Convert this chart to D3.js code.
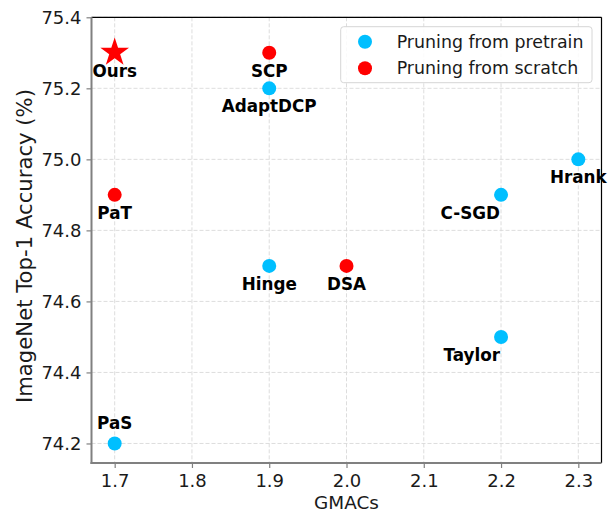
<!DOCTYPE html>
<html>
<head>
<meta charset="utf-8">
<script src="https://cdn.jsdelivr.net/npm/d3@7"></script>
<style>
  html, body { margin: 0; padding: 0; background: #fff; }
  svg { display: block; font-family: "DejaVu Sans", sans-serif; }
</style>
</head>
<body>
<svg id="chart" width="611" height="512"></svg>
<script>
// Pruning methods: compute (GMACs) vs. ImageNet top-1 accuracy
const methods = ["PaS", "Taylor", "Hinge", "C-SGD", "Hrank", "AdaptDCP", "PaT", "SCP", "DSA", "Ours"];
const gmacs   = [1.7,   2.2,      1.9,     2.2,     2.3,     1.9,        1.7,   1.9,   2.0,   1.7];
const top1    = [74.2,  74.5,     74.7,    74.9,    75.0,    75.2,       74.9,  75.3,  74.7,  75.3];
const groups  = ["pretrain", "pretrain", "pretrain", "pretrain", "pretrain", "pretrain",
                 "scratch", "scratch", "scratch", "ours"];

const legendNames = ["Pruning from pretrain", "Pruning from scratch"];
const legendKeys  = ["pretrain", "scratch"];

const xTicks = [1.7, 1.8, 1.9, 2.0, 2.1, 2.2, 2.3];
const yTicks = [74.2, 74.4, 74.6, 74.8, 75.0, 75.2, 75.4];

// Label placement relative to each marker (pixels)
const labelPlacement = {
  "PaS":    { dx: 0,  dy: -14, anchor: "middle" },
  "C-SGD":  { dx: -1, dy: 24,  anchor: "end" },
  "Taylor": { dx: -1, dy: 24,  anchor: "end" }
};
const defaultPlacement = { dx: 0, dy: 24, anchor: "middle" };

const colors = { pretrain: "#00BFFF", scratch: "#FF0000", ours: "#FF0000" };

const rows = methods.map((m, i) => ({ name: m, x: gmacs[i], y: top1[i], g: groups[i] }));

const svg = d3.select("#chart");
const plot = { left: 91.5, right: 601.5, top: 17.3, bottom: 463 };

const x = d3.scaleLinear().domain([1.67, 2.33]).range([plot.left, plot.right]);
const y = d3.scaleLinear().domain([74.145, 75.4]).range([plot.bottom, plot.top]);

// Grid
const grid = svg.append("g").attr("stroke", "#d9d9d9").attr("stroke-width", 0.9)
  .attr("stroke-dasharray", "4,2");
grid.selectAll("line.vx").data(xTicks).join("line")
  .attr("x1", d => x(d)).attr("x2", d => x(d))
  .attr("y1", plot.top).attr("y2", plot.bottom);
grid.selectAll("line.hy").data(yTicks).join("line")
  .attr("x1", plot.left).attr("x2", plot.right)
  .attr("y1", d => y(d)).attr("y2", d => y(d));

// Axes
const xAxis = d3.axisBottom(x).tickValues(xTicks).tickFormat(d3.format(".1f"))
  .tickSize(5).tickPadding(5);
const yAxis = d3.axisLeft(y).tickValues(yTicks).tickFormat(d3.format(".1f"))
  .tickSize(5).tickPadding(5);

const gx = svg.append("g").attr("transform", `translate(0,${plot.bottom})`).call(xAxis);
const gy = svg.append("g").attr("transform", `translate(${plot.left},0)`).call(yAxis);
[gx, gy].forEach(g => {
  g.select(".domain").remove();
  g.selectAll(".tick line").attr("stroke", "#808080").attr("stroke-width", 1.2);
  g.selectAll(".tick text").attr("fill", "#1a1a1a")
    .style("font-size", "18px").style("font-family", "DejaVu Sans, sans-serif");
});
gx.selectAll(".tick text").attr("dy", null).attr("y", 24);

// Frame: top/right black, left/bottom grey
svg.append("line").attr("x1", plot.left).attr("x2", plot.right)
  .attr("y1", plot.top).attr("y2", plot.top).attr("stroke", "#000").attr("stroke-width", 1.2);
svg.append("line").attr("x1", plot.right).attr("x2", plot.right)
  .attr("y1", plot.top).attr("y2", plot.bottom).attr("stroke", "#000").attr("stroke-width", 1.2);
svg.append("line").attr("x1", plot.left).attr("x2", plot.left)
  .attr("y1", plot.top).attr("y2", plot.bottom + 1).attr("stroke", "#808080").attr("stroke-width", 2);
svg.append("line").attr("x1", plot.left - 1).attr("x2", plot.right)
  .attr("y1", plot.bottom).attr("y2", plot.bottom).attr("stroke", "#808080").attr("stroke-width", 2);

// Axis titles
svg.append("text").attr("x", (plot.left + plot.right) / 2).attr("y", 509)
  .attr("text-anchor", "middle").style("font-size", "18.4px").attr("fill", "#1a1a1a")
  .text("GMACs");
svg.append("text")
  .attr("transform", `translate(31.5,246) rotate(-90)`)
  .attr("text-anchor", "middle").style("font-size", "21.2px").attr("fill", "#1a1a1a")
  .text("ImageNet Top-1 Accuracy (%)");

// Markers
svg.append("g").selectAll("circle")
  .data(rows.filter(d => d.g !== "ours")).join("circle")
  .attr("cx", d => x(d.x)).attr("cy", d => y(d.y)).attr("r", 7)
  .attr("fill", d => colors[d.g]);

svg.append("g").selectAll("path")
  .data(rows.filter(d => d.g === "ours")).join("path")
  .attr("d", d3.symbol(d3.symbolStar, 255))
  .attr("transform", d => `translate(${x(d.x)},${y(d.y) - 0.3})`)
  .attr("fill", colors.ours);

// Method labels
svg.append("g").selectAll("text").data(rows).join("text")
  .attr("x", d => x(d.x) + (labelPlacement[d.name] || defaultPlacement).dx)
  .attr("y", d => y(d.y) + (labelPlacement[d.name] || defaultPlacement).dy)
  .attr("text-anchor", d => (labelPlacement[d.name] || defaultPlacement).anchor)
  .style("font-size", "16.8px").style("font-weight", "bold").attr("fill", "#000")
  .text(d => d.name);

// Legend
const lg = svg.append("g");
lg.append("rect").attr("x", 340.7).attr("y", 26.7).attr("width", 251.3).attr("height", 56)
  .attr("rx", 3).attr("fill", "#fff").attr("fill-opacity", 0.85)
  .attr("stroke", "#d6d6d6").attr("stroke-width", 1);
const items = lg.selectAll("g.item").data(legendKeys).join("g")
  .attr("transform", (d, i) => `translate(0,${41.7 + i * 26.6})`);
items.append("circle").attr("cx", 365).attr("cy", 0).attr("r", 7)
  .attr("fill", d => colors[d]);
items.append("text").attr("x", 396.7).attr("y", 6)
  .style("font-size", "17.4px").attr("fill", "#1a1a1a")
  .text((d, i) => legendNames[i]);
</script>
</body>
</html>
